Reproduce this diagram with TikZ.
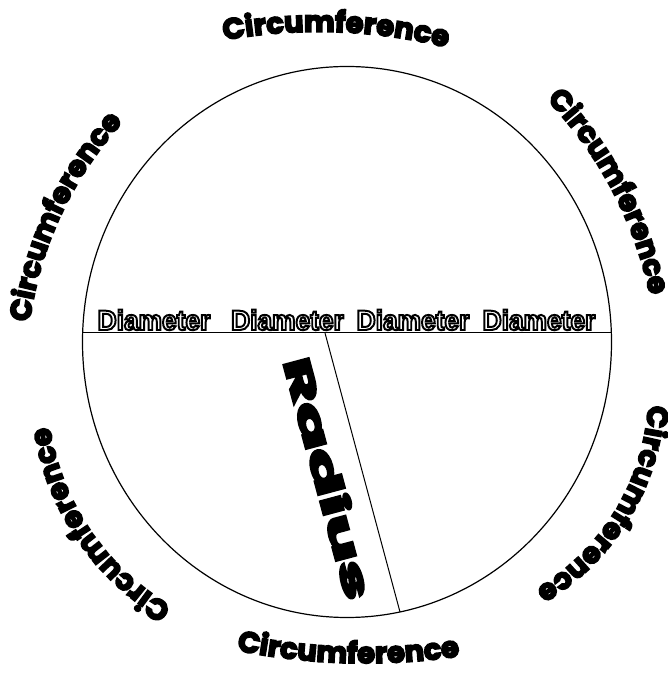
\documentclass[tikz,border=0pt]{standalone}
\usepackage{fontspec}
\usepackage{graphicx}
\usetikzlibrary{decorations.text}
\newfontfamily\circfont{Poppins}[BoldFeatures={FakeBold=6}]
\newfontfamily\diamfont{Liberation Sans}[BoldFeatures={FakeBold=7,FakeStretch=0.94}]
\newcommand\circfmt{\circfont\bfseries\fontsize{29}{30}\selectfont}
\newcommand\outl[1]{\special{pdf:literal direct 0 G}#1}

\begin{document}
\begin{tikzpicture}[x=1pt,y=1pt,
  circ/.style={decorate,decoration={text along path,text align=center,
    text={|\circfmt|Circumference}}},
  diam/.style={anchor=base,inner sep=0pt,text=white,font=\diamfont\bfseries\fontsize{28}{28}\selectfont},
  rad/.style={inner sep=0pt,font=\circfont\bfseries\fontsize{37}{37}\selectfont}]
\useasboundingbox (0,0) rectangle (667,677);
\draw[line width=1.2pt] (347,335) ellipse [x radius=264.5, y radius=275.5];
\coordinate (dl) at (82.6,344);
\coordinate (dr) at (611.4,344);
\coordinate (rs) at (325,344);
\coordinate (re) at (400,65);
\draw[line width=1pt] (dl) -- (dr);
\draw[line width=1pt] (rs) -- (re);
\node[diam] (d1) at (154,347) {\outl{Diameter}};
\node[diam] (d2) at (287.5,347) {\outl{Diameter}};
\node[diam] (d3) at (413,347) {\outl{Diameter}};
\node[diam] (d4) at (539,347) {\outl{Diameter}};
\node[rad,rotate=-75] (radius) at (329,199) {\scalebox{1.9}[1]{Radius}};
\path[circ] (318.4,115.3) ++(103.2:530pt) arc[start angle=103.2,end angle=73,radius=530pt];
\path[circ] (258.2,300.4) ++(47.85:400pt) arc[start angle=47.85,end angle=7.75,radius=400pt];
\path[circ] (418.7,285.8) ++(3.5:230pt) arc[start angle=3.5,end angle=-66.3,radius=230pt];
\path[circ] (365,663.8) ++(256.2:650pt) arc[start angle=256.2,end angle=280.8,radius=650pt];
\path[circ] (298.9,288.2) ++(246:252pt) arc[start angle=246,end angle=182.4,radius=252pt];
\path[circ] (396.3,305.6) ++(176.7:370pt) arc[start angle=176.7,end angle=133.3,radius=370pt];
\end{tikzpicture}
\end{document}
